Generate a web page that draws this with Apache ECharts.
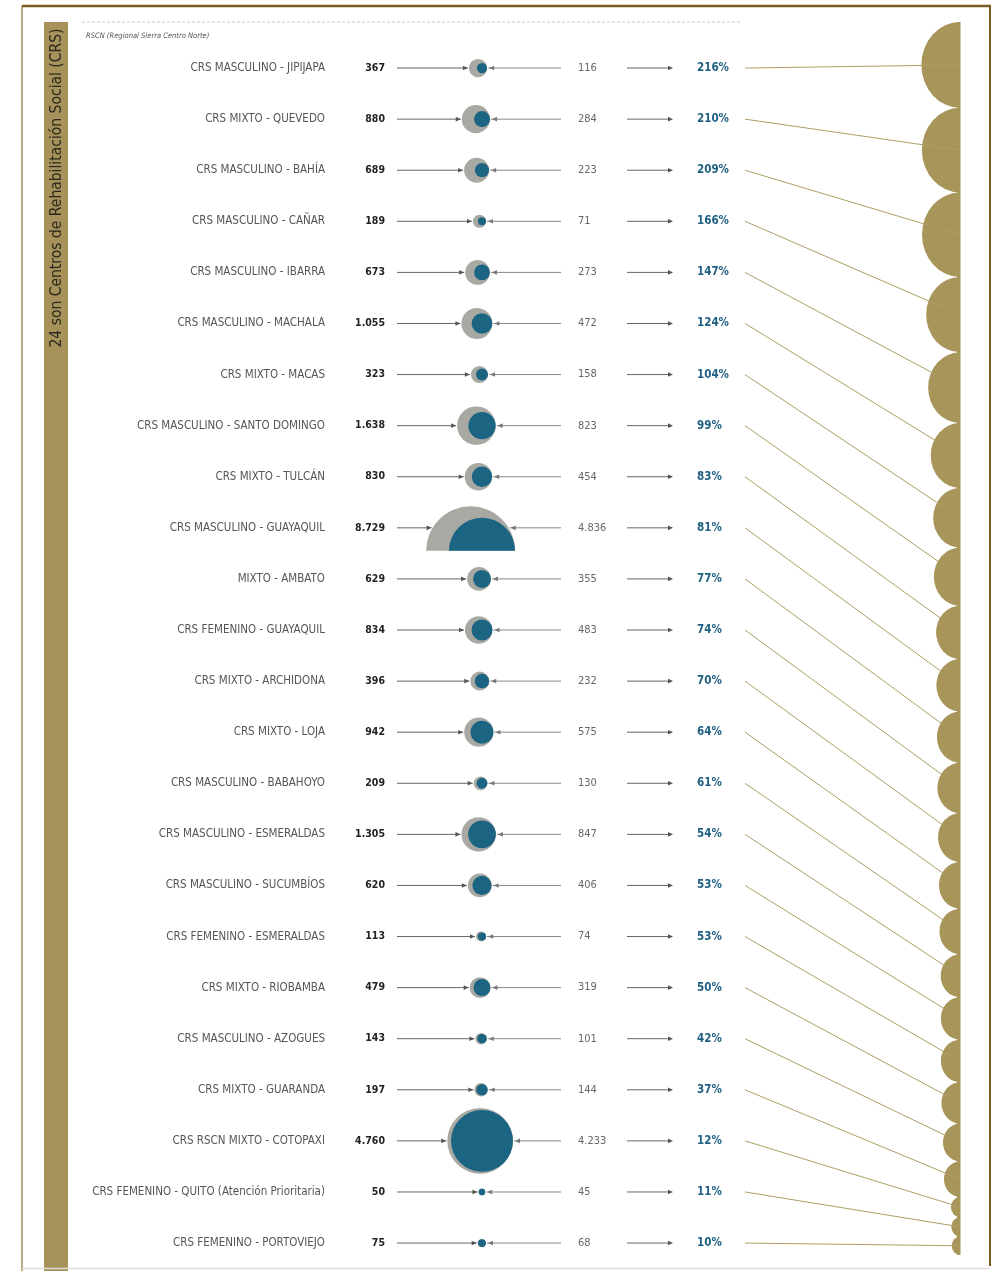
<!DOCTYPE html>
<html>
<head>
<meta charset="utf-8">
<script src="https://cdn.jsdelivr.net/npm/echarts@6/dist/echarts.min.js"></script>
<style>
  html, body { margin: 0; padding: 0; background: #fff; }
  #grafico { width: 998px; height: 1271px; }
</style>
</head>
<body>
<div id="grafico"></div>
<script>
// Datos
const centros = [
  'CRS MASCULINO - JIPIJAPA', 'CRS MIXTO - QUEVEDO', 'CRS MASCULINO - BAHÍA', 'CRS MASCULINO - CAÑAR',
  'CRS MASCULINO - IBARRA', 'CRS MASCULINO - MACHALA', 'CRS MIXTO - MACAS', 'CRS MASCULINO - SANTO DOMINGO',
  'CRS MIXTO - TULCÁN', 'CRS MASCULINO - GUAYAQUIL', 'MIXTO - AMBATO', 'CRS FEMENINO - GUAYAQUIL',
  'CRS MIXTO - ARCHIDONA', 'CRS MIXTO - LOJA', 'CRS MASCULINO - BABAHOYO', 'CRS MASCULINO - ESMERALDAS',
  'CRS MASCULINO - SUCUMBÍOS', 'CRS FEMENINO - ESMERALDAS', 'CRS MIXTO - RIOBAMBA', 'CRS MASCULINO - AZOGUES',
  'CRS MIXTO - GUARANDA', 'CRS RSCN MIXTO - COTOPAXI', 'CRS FEMENINO - QUITO (Atención Prioritaria)', 'CRS FEMENINO - PORTOVIEJO'
];
const poblacion = [367, 880, 689, 189, 673, 1055, 323, 1638, 830, 8729, 629, 834, 396, 942, 209, 1305, 620, 113, 479, 143, 197, 4760, 50, 75];
const capacidad = [116, 284, 223, 71, 273, 472, 158, 823, 454, 4836, 355, 483, 232, 575, 130, 847, 406, 74, 319, 101, 144, 4233, 45, 68];
const hacinamiento = [216, 210, 209, 166, 147, 124, 104, 99, 83, 81, 77, 74, 70, 64, 61, 54, 53, 53, 50, 42, 37, 12, 11, 10];

const titulo = '24 son Centros de Rehabilitación Social (CRS)';
const nota = 'RSCN (Regional Sierra Centro Norte)';

const FUENTE = "'Liberation Sans Narrow', 'DejaVu Sans Condensed', sans-serif";
const DORADO = '#a8955a';
const AZUL = '#1b6482';
const GRIS = '#a9a9a4';

const chart = echarts.init(document.getElementById('grafico'));

function miles(n) {
  return String(n).replace(/\B(?=(\d{3})+(?!\d))/g, '.');
}

// radio de los círculos proporcional a la raíz del valor
function radio(v) {
  return 0.476 * Math.sqrt(v);
}

// posiciones acumuladas de los semicírculos dorados
const raices = hacinamiento.map(v => Math.sqrt(v));
const totalRaices = raices.reduce((a, b) => a + b, 0);
const centrosDorados = [];
let acum = 0;
raices.forEach(r => { centrosDorados.push(acum + r / 2); acum += r; });
const ALTO_DORADO = 1271 - 22 - 16;

const maxPob = Math.max(...poblacion);

function flecha(x, y, dir, color) {
  // dir 1 = apunta a la derecha, -1 = a la izquierda
  return {
    type: 'polygon',
    shape: { points: [[x - dir * 5, y - 2.3], [x, y], [x - dir * 5, y + 2.3]] },
    style: { fill: color }
  };
}

function renderFila(params, api) {
  const i = params.dataIndex;
  const y = api.coord([0, i])[1];
  const X = v => api.coord([v, i])[0];
  const rGris = radio(poblacion[i]);
  const rAzul = radio(capacidad[i]);
  const cxAzul = X(482);
  const cxGris = cxAzul + rAzul - rGris;
  const recortado = poblacion[i] === maxPob;
  const dy = recortado ? 23 : 0;
  const cy = y + dy;
  const izq = cxGris - Math.sqrt(rGris * rGris - dy * dy);
  const der = Math.max(cxGris + Math.sqrt(rGris * rGris - dy * dy), cxAzul + Math.sqrt(rAzul * rAzul - dy * dy));

  const forma = (cx, r, color) => recortado
    ? { type: 'sector', shape: { cx: cx, cy: cy, r0: 0, r: r, startAngle: Math.PI, endAngle: Math.PI * 2, clockwise: true }, style: { fill: color } }
    : { type: 'circle', shape: { cx: cx, cy: cy, r: r }, style: { fill: color } };

  return {
    type: 'group',
    children: [
      { type: 'text', style: { text: centros[i], x: X(325), y: y, align: 'right', verticalAlign: 'middle',
        fontFamily: FUENTE, fontSize: 11.5, fill: '#555' } },
      { type: 'text', style: { text: miles(poblacion[i]), x: X(385), y: y, align: 'right', verticalAlign: 'middle',
        fontFamily: FUENTE, fontSize: 10.5, fontWeight: 'bold', fill: '#222' } },
      { type: 'line', shape: { x1: X(397), y1: y, x2: izq - 1, y2: y }, style: { stroke: '#666', lineWidth: 1 } },
      flecha(izq - 1, y, 1, '#555'),
      { type: 'line', shape: { x1: der + 1, y1: y, x2: X(561), y2: y }, style: { stroke: '#888', lineWidth: 1 } },
      flecha(der + 2, y, -1, '#777'),
      forma(cxGris, rGris, GRIS),
      forma(cxAzul, rAzul, AZUL),
      { type: 'text', style: { text: miles(capacidad[i]), x: X(578), y: y, align: 'left', verticalAlign: 'middle',
        fontFamily: FUENTE, fontSize: 11, fill: '#666' } },
      { type: 'line', shape: { x1: X(627), y1: y, x2: X(670), y2: y }, style: { stroke: '#666', lineWidth: 1 } },
      flecha(X(673), y, 1, '#555'),
      { type: 'text', style: { text: hacinamiento[i] + '%', x: X(697), y: y, align: 'left', verticalAlign: 'middle',
        fontFamily: FUENTE, fontSize: 11.5, fontWeight: 'bold', fill: '#1e5f82' } }
    ]
  };
}

// medio óvalo dorado: sólo la mitad izquierda, pegado al borde derecho
function renderDorado(params, api) {
  const i = params.dataIndex;
  const p = api.coord([1, centrosDorados[i]]);
  const r = api.size([0, raices[i]])[1] / 2;
  return {
    type: 'sector',
    shape: { cx: p[0], cy: p[1], r0: 0, r: r, startAngle: Math.PI / 2, endAngle: Math.PI * 1.5, clockwise: true },
    originX: p[0],
    originY: p[1],
    scaleX: 0.9,
    style: { fill: DORADO }
  };
}

const option = {
  animation: false,
  backgroundColor: '#fff',
  grid: [
    { left: 0, right: 0, top: 42.5, bottom: 2.4 },
    { left: 860, right: 38, top: 22, bottom: 16 }
  ],
  xAxis: [
    { gridIndex: 0, type: 'value', min: 0, max: 998, show: false },
    { gridIndex: 1, type: 'value', min: 0, max: 1, show: false }
  ],
  yAxis: [
    { gridIndex: 0, type: 'category', data: centros, inverse: true, show: false },
    { gridIndex: 1, type: 'value', min: 0, max: totalRaices, inverse: true, show: false }
  ],
  series: [
    {
      type: 'custom',
      xAxisIndex: 0,
      yAxisIndex: 0,
      renderItem: renderFila,
      encode: { x: 0, y: 1 },
      data: centros.map((c, i) => [0, i]),
      z: 3
    },
    {
      type: 'custom',
      xAxisIndex: 1,
      yAxisIndex: 1,
      renderItem: renderDorado,
      encode: { x: 0, y: 1 },
      data: centrosDorados.map((c, i) => [1, c, hacinamiento[i]]),
      z: 2
    }
  ]
};

chart.setOption(option);

// conectores desde el porcentaje hasta el centro de cada semicírculo
const conectores = centros.map((c, i) => {
  const p0 = chart.convertToPixel({ gridIndex: 0 }, [745, i]);
  const p1 = chart.convertToPixel({ gridIndex: 1 }, [1, centrosDorados[i]]);
  return {
    type: 'line',
    shape: { x1: p0[0], y1: p0[1], x2: p1[0], y2: p1[1] },
    style: { stroke: '#ad9f66', lineWidth: 1 },
    z: 10
  };
});

chart.setOption({
  graphic: [
    // marco
    { type: 'line', shape: { x1: 22, y1: 6, x2: 991, y2: 6 }, style: { stroke: '#7b5d22', lineWidth: 2.5 }, z: 20 },
    { type: 'line', shape: { x1: 990, y1: 6, x2: 990, y2: 1266 }, style: { stroke: '#7b5d22', lineWidth: 2 }, z: 20 },
    { type: 'line', shape: { x1: 22, y1: 6, x2: 22, y2: 1271 }, style: { stroke: '#8a6d33', lineWidth: 1.2 }, z: 20 },
    { type: 'line', shape: { x1: 22, y1: 1268.5, x2: 990, y2: 1268.5 }, style: { stroke: '#dcdcdc', lineWidth: 1.5 }, z: 20 },
    // franja lateral
    { type: 'rect', shape: { x: 44, y: 22, width: 24, height: 1249 }, style: { fill: '#a6925a' }, z: 5 },
    { type: 'text', x: 57, y: 188, rotation: Math.PI / 2,
      style: { text: titulo, align: 'center', verticalAlign: 'middle', fontFamily: FUENTE, fontSize: 15.5, fill: '#2b2a1d' }, z: 6 },
    // cabecera
    { type: 'line', shape: { x1: 82, y1: 22, x2: 740, y2: 22 }, style: { stroke: '#c8c8c8', lineWidth: 1, lineDash: [3, 2] }, z: 5 },
    { type: 'text', x: 86, y: 36,
      style: { text: nota, align: 'left', verticalAlign: 'middle', fontFamily: FUENTE, fontSize: 7.5, fontStyle: 'italic', fill: '#555' }, z: 5 },
    // borde de los semicírculos
    { type: 'rect', shape: { x: 957, y: 22, width: 3.5, height: ALTO_DORADO }, style: { fill: DORADO }, z: 4 }
  ].concat(conectores)
});

window.addEventListener('resize', function () {
  chart.resize();
});
</script>
</body>
</html>
